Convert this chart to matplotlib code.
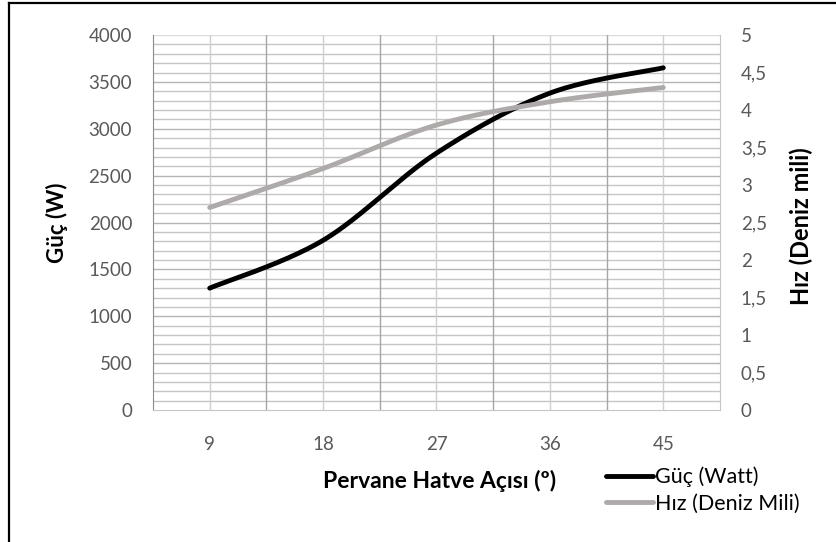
import numpy as np
import matplotlib
matplotlib.use("Agg")
import matplotlib.pyplot as plt
from matplotlib.lines import Line2D
from matplotlib.ticker import FuncFormatter, MultipleLocator

plt.rcParams['font.family'] = ['Lato', 'DejaVu Sans']

# data
aci = [9, 18, 27, 36, 45]                   # pervane hatve acisi (derece)
guc = [1300, 1810, 2740, 3380, 3650]        # W
hiz = [2.70, 3.22, 3.80, 4.11, 4.30]        # deniz mili


def smooth(x, y, n=40):
    # excel-like smoothed line (catmull-rom bezier between given points)
    x = np.asarray(x, float)
    y = np.asarray(y, float)
    px = np.r_[x[0], x, x[-1]]
    py = np.r_[y[0], y, y[-1]]
    xs, ys = [], []
    t = np.linspace(0, 1, n)
    for i in range(1, len(px) - 2):
        p0 = np.array([px[i], py[i]])
        p3 = np.array([px[i + 1], py[i + 1]])
        p1 = p0 + (p3 - np.array([px[i - 1], py[i - 1]])) / 6
        p2 = p3 - (np.array([px[i + 2], py[i + 2]]) - p0) / 6
        b = ((1 - t) ** 3)[:, None] * p0 + (3 * (1 - t) ** 2 * t)[:, None] * p1 \
            + (3 * (1 - t) * t ** 2)[:, None] * p2 + (t ** 3)[:, None] * p3
        xs.append(b[:, 0])
        ys.append(b[:, 1])
    return np.concatenate(xs), np.concatenate(ys)


fig = plt.figure(figsize=(8.37, 5.42), dpi=100)
ax1 = fig.add_axes([153 / 837, 1 - 410 / 542, 567 / 837, 375 / 542])

ax1.set_xlim(4.5, 49.5)
ax1.set_ylim(0, 4000)

# grid lines
for v in np.arange(100, 4000, 100):
    ax1.axhline(v, color='#c6c6c6' if v % 500 else '#b4b4b4', lw=1, zorder=0)
ax1.axhline(4000, color='#dcdcdc', lw=1, zorder=0)
for v in np.arange(9, 49.5, 4.5):
    major = abs((v - 4.5) % 9) < 1e-6
    ax1.axvline(v, color='#a6a6a6' if major else '#cfcfcf', lw=1, zorder=0)

for s in ['top', 'right']:
    ax1.spines[s].set_visible(False)
ax1.spines['left'].set_color('#8c8c8c')
ax1.spines['bottom'].set_color('#c6c6c6')

ax1.set_xticks(aci)
ax1.yaxis.set_major_locator(MultipleLocator(500))
ax1.tick_params(length=0, colors='#595959', labelsize=13.5)
ax1.tick_params(axis='y', pad=15)
ax1.tick_params(axis='x', pad=19)

xs, ys = smooth(aci, guc)
l1, = ax1.plot(xs, ys, color='black', lw=3.5, solid_capstyle='round', zorder=3)

ax2 = ax1.twinx()
ax2.set_ylim(0, 5)
ax2.yaxis.set_major_locator(MultipleLocator(0.5))
ax2.yaxis.set_major_formatter(FuncFormatter(lambda v, p: ('%g' % v).replace('.', ',')))
ax2.tick_params(length=0, colors='#595959', labelsize=13.5, pad=15)
for s in ['top', 'left', 'bottom']:
    ax2.spines[s].set_visible(False)
ax2.spines['right'].set_color('#c6c6c6')
xs2, ys2 = smooth(aci, hiz)
l2, = ax2.plot(xs2, ys2, color='#aeaaaa', lw=3.5, solid_capstyle='round', zorder=3)

ax1.set_ylabel('Güç (W)', fontsize=16, fontweight='bold')
ax1.yaxis.set_label_coords(-0.15, 0.5)
ax2.set_ylabel('Hız (Deniz mili)', fontsize=17, fontweight='bold', rotation=90)
ax2.yaxis.set_label_coords(1.122, 0.49)

fig.text(440 / 837, 1 - 481 / 542, 'Pervane Hatve Açısı (º)', fontsize=16.5,
         fontweight='bold', ha='center', va='center')

leg = fig.legend([l1, l2], ['Güç (Watt)', 'Hız (Deniz Mili)'],
                 loc='center left', bbox_to_anchor=(597 / 837, 1 - 490 / 542),
                 frameon=False, fontsize=15.5, handlelength=2.2, handletextpad=0.1,
                 labelspacing=0.3, borderaxespad=0)

# chart border (only left and top are visible in the crop)
fig.add_artist(Line2D([9 / 837, 9 / 837], [0, 1 - 3 / 542], transform=fig.transFigure,
                      color='black', lw=1.6))
fig.add_artist(Line2D([9 / 837, 1], [1 - 3 / 542, 1 - 3 / 542], transform=fig.transFigure,
                      color='black', lw=1.6))

fig.savefig('out.png', dpi=100)
